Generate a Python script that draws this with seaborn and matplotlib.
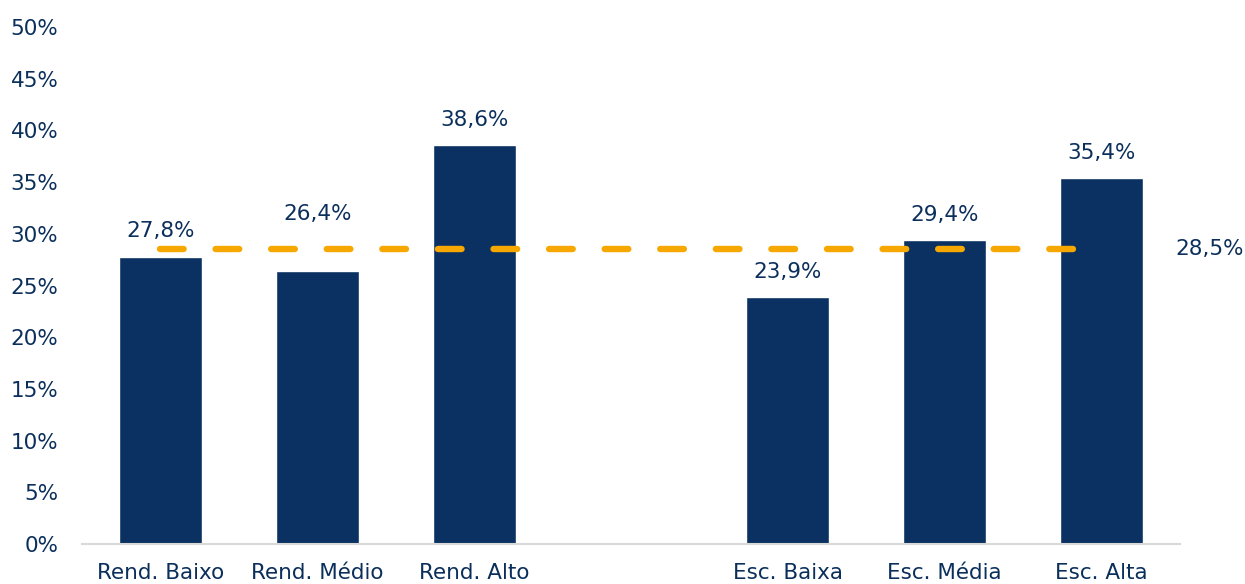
import matplotlib
matplotlib.use("Agg")
import matplotlib.pyplot as plt
import seaborn as sns
import pandas as pd

# Share of respondents by income and schooling group
categories = ["Rend. Baixo", "Rend. Médio", "Rend. Alto", "Esc. Baixa", "Esc. Média", "Esc. Alta"]
values = [27.8, 26.4, 38.6, 23.9, 29.4, 35.4]
# display order, with a blank slot separating the two groups
order = ["Rend. Baixo", "Rend. Médio", "Rend. Alto", " ", "Esc. Baixa", "Esc. Média", "Esc. Alta"]
average = 28.5
yticks = [0, 5, 10, 15, 20, 25, 30, 35, 40, 45, 50]

NAVY = "#0a3161"
TEXT = "#0b2f5b"
ORANGE = "#f7a800"

sns.set_theme(style="white")
plt.rcParams["font.family"] = ["DejaVu Sans"]

df = pd.DataFrame({"grupo": categories, "valor": values})

fig = plt.figure(figsize=(12.45, 5.84), dpi=100)
ax = fig.add_axes([82 / 1245, 1 - 544 / 584, (1180 - 82) / 1245, (544 - 27) / 584])

sns.barplot(data=df, x="grupo", y="valor", order=order, color=NAVY,
            saturation=1, width=0.53, ax=ax)

# average reference line across all slots
lw = 4.6
ax.plot([0, 6], [average, average], color=ORANGE, lw=lw,
        dashes=(3.7, 5.0), dash_capstyle="round", zorder=3)
ax.text(6.47, average, f"{average:.1f}%".replace(".", ","), ha="left", va="center",
        fontsize=15.5, color=TEXT)

# value labels above bars; the middle income label is lifted clear of the dashed line
for cat, v in zip(categories, values):
    xi = order.index(cat)
    lift = 23 if cat == "Rend. Médio" else 0
    ax.annotate(f"{v:.1f}%".replace(".", ","), (xi, v), xytext=(0, 11 + lift),
                textcoords="offset points", ha="center", va="bottom",
                fontsize=15.5, color=TEXT)

ax.set_xlim(-0.5, 6.5)
ax.set_ylim(0, 50)
ax.set_yticks(yticks)
ax.set_yticklabels([f"{t}%" for t in yticks])
ax.set_xlabel("")
ax.set_ylabel("")
ax.tick_params(axis="both", length=0, labelsize=15.5, colors=TEXT)
ax.tick_params(axis="y", pad=17)
ax.tick_params(axis="x", pad=14)

for s in ["top", "right", "left"]:
    ax.spines[s].set_visible(False)
ax.spines["bottom"].set_color("#d9d9d9")
ax.spines["bottom"].set_linewidth(1.5)
ax.patch.set_alpha(0)

fig.savefig("out.png", dpi=100, facecolor="white")
